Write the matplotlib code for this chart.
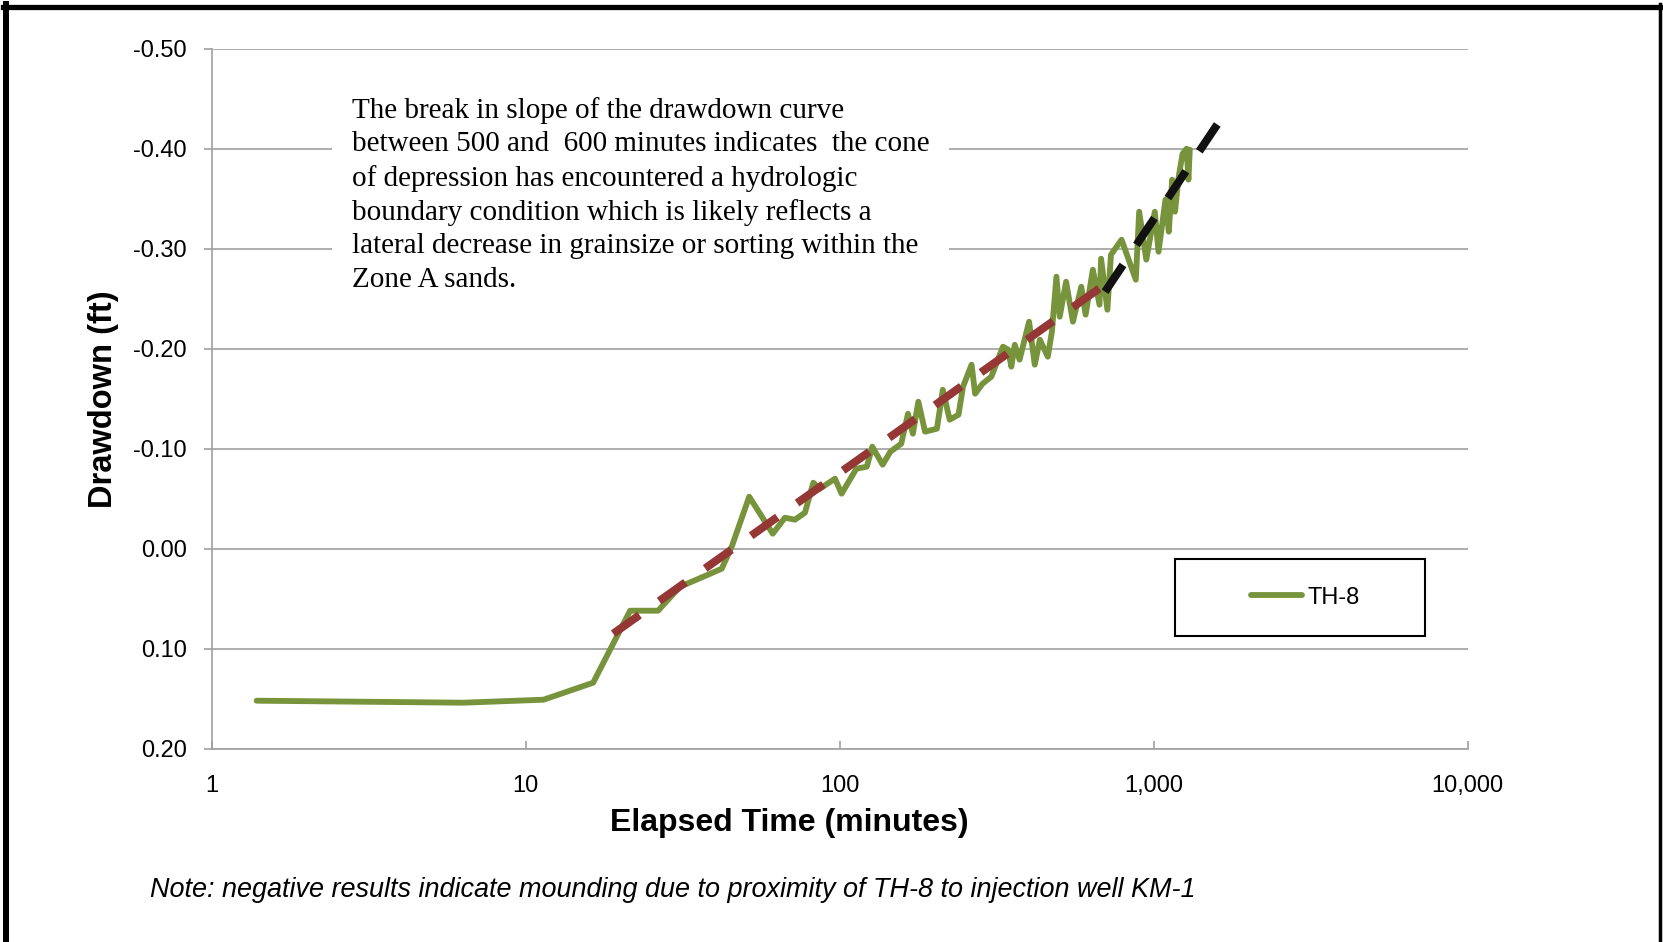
import numpy as np
import matplotlib
matplotlib.use("Agg")
import matplotlib.pyplot as plt
from matplotlib.lines import Line2D
from matplotlib.patches import Rectangle

plt.rcParams['font.family'] = ['Liberation Sans', 'DejaVu Sans']

# TH-8 drawdown record (elapsed minutes, drawdown ft; negative = mounding)
time_min = [1.39, 6.33, 11.4, 16.4, 21.5, 26.4, 31.0, 36.8, 42.1, 45.3,
            51.5, 61.2, 66.9, 72.0, 77.5, 82.4, 86.5, 96.6, 101.4, 113,
            122, 127, 137, 145, 157, 165, 171, 178, 187, 204,
            213, 224, 239, 247, 263, 270, 285, 304, 331, 344,
            352, 361, 374, 401, 418, 434, 460, 474, 490, 502, 526,
            553, 588, 607, 640, 672, 680, 712, 731, 790, 877,
            899, 947, 1008, 1036, 1090, 1117, 1145, 1169, 1201, 1236,
            1273, 1290, 1303]
drawdown_ft = [0.152, 0.154, 0.151, 0.134, 0.062, 0.062, 0.038, 0.028, 0.020, -0.002,
               -0.052, -0.015, -0.031, -0.029, -0.036, -0.066, -0.060, -0.070, -0.055, -0.080,
               -0.082, -0.102, -0.084, -0.097, -0.105, -0.135, -0.115, -0.147, -0.117, -0.120,
               -0.159, -0.129, -0.134, -0.162, -0.184, -0.155, -0.165, -0.172, -0.202, -0.199,
               -0.182, -0.204, -0.189, -0.227, -0.184, -0.209, -0.192, -0.217, -0.272, -0.232, -0.267,
               -0.227, -0.262, -0.234, -0.279, -0.244, -0.290, -0.239, -0.294, -0.309, -0.269,
               -0.337, -0.289, -0.337, -0.297, -0.349, -0.317, -0.369, -0.337, -0.372, -0.395,
               -0.400, -0.369, -0.399]

# straight-line fits before and after the slope break
early_fit_time = [19, 690]
early_fit_dd = [0.085, -0.263]
late_fit_time = [700, 1600]
late_fit_dd = [-0.257, -0.425]

x_ticks = [1, 10, 100, 1000, 10000]
x_tick_labels = ['1', '10', '100', '1,000', '10,000']
y_ticks = [-0.5, -0.4, -0.3, -0.2, -0.1, 0.0, 0.1, 0.2]
y_tick_labels = ['-0.50', '-0.40', '-0.30', '-0.20', '-0.10', '0.00', '0.10', '0.20']

W, H = 1663, 942
fig = plt.figure(figsize=(W / 100, H / 100), dpi=100)
ax = fig.add_axes([211.7 / W, 1 - 748.7 / H, 1256 / W, 700 / H])

grid_c = '#a0a0a0'
ax.set_xscale('log')
ax.set_xlim(1, 10000)
ax.set_ylim(0.2, -0.5)
ax.set_xticks(x_ticks)
ax.set_xticklabels(x_tick_labels)
ax.xaxis.set_minor_locator(matplotlib.ticker.NullLocator())
ax.set_yticks(y_ticks)
ax.set_yticklabels(y_tick_labels)
ax.grid(axis='y', color=grid_c, lw=1.2, zorder=0)
ax.set_axisbelow(True)
for s in ['top', 'right']:
    ax.spines[s].set_visible(False)
for s in ['left', 'bottom']:
    ax.spines[s].set_color(grid_c)
    ax.spines[s].set_linewidth(1.2)
ax.tick_params(axis='x', direction='in', length=6, width=1.2, color=grid_c,
               labelsize=17, pad=19)
ax.tick_params(axis='y', direction='out', length=6, width=1.2, color=grid_c,
               labelsize=17, pad=12)

ax.plot(time_min, drawdown_ft, color='#77933c', lw=4.2, solid_joinstyle='round',
        solid_capstyle='round', label='TH-8', zorder=3)
ax.plot(early_fit_time, early_fit_dd, color='#953735', lw=5.8, dashes=(4, 3), zorder=4)
ax.plot(late_fit_time, late_fit_dd, color='#111111', lw=5.8, dashes=(4, 3), zorder=4)

ax.set_xlabel('Elapsed Time (minutes)', fontsize=23, fontweight='bold')
ax.set_ylabel('Drawdown (ft)', fontsize=23.5, fontweight='bold')
ax.xaxis.set_label_coords(0.4596, -0.084)
ax.yaxis.set_label_coords(-0.0735, 0.5)

note = ("The break in slope of the drawdown curve\n"
        "between 500 and  600 minutes indicates  the cone\n"
        "of depression has encountered a hydrologic\n"
        "boundary condition which is likely reflects a\n"
        "lateral decrease in grainsize or sorting within the\n"
        "Zone A sands.")
fig.text(352 / W, 1 - 97 / H, note, family=['Liberation Serif', 'DejaVu Serif'],
         fontsize=21, va='top', ha='left', linespacing=1.36, zorder=5,
         bbox=dict(facecolor='white', edgecolor='none', pad=14))

# legend box
fig.add_artist(Rectangle((1175 / W, 1 - 636 / H), 250 / W, 77 / H,
                         transform=fig.transFigure, fill=False, ec='black', lw=1.5))
fig.legend(loc='center', bbox_to_anchor=(1305 / W, 1 - 597.5 / H), frameon=False,
           fontsize=17, handlelength=2.2, handletextpad=0.2)

fig.text(150 / W, 1 - 890 / H,
         'Note: negative results indicate mounding due to proximity of TH-8 to injection well KM-1',
         fontsize=19.45, style='italic', va='center', ha='left')

# page frame
fig.add_artist(Line2D([6.3 / W, 6.3 / W], [-0.05, 1 - 4 / H], transform=fig.transFigure,
                      color='black', lw=4.3))
fig.add_artist(Line2D([3 / W, 1661 / W], [1 - 6.7 / H, 1 - 6.7 / H], transform=fig.transFigure,
                      color='black', lw=3.8))
fig.add_artist(Line2D([1659.5 / W, 1659.5 / W], [-0.05, 1 - 4 / H], transform=fig.transFigure,
                      color='black', lw=2.5))

fig.savefig('out.png', dpi=100)
